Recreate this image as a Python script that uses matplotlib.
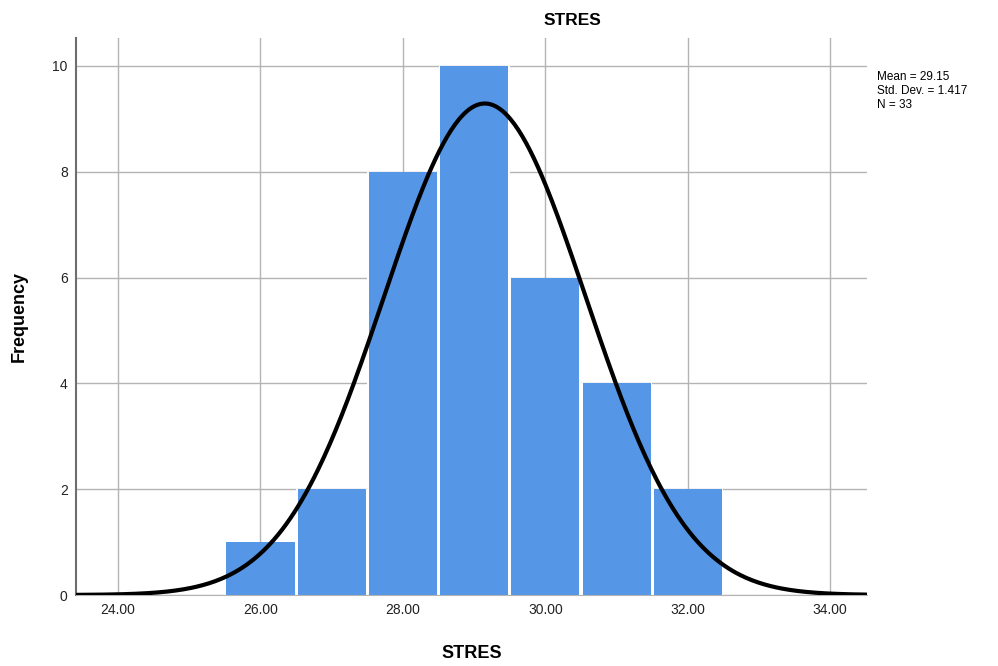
import numpy as np
import matplotlib
matplotlib.use("Agg")
import matplotlib.pyplot as plt

# histogram data (bin centres and counts)
bin_centers = [26, 27, 28, 29, 30, 31, 32]
counts = [1, 2, 8, 10, 6, 4, 2]
mean = 29.15
std = 1.417
n = 33
x_ticks = [24, 26, 28, 30, 32, 34]
y_ticks = [0, 2, 4, 6, 8, 10]

plt.rcParams['font.family'] = ['Liberation Sans', 'DejaVu Sans']

fig = plt.figure(figsize=(9.98, 6.66), dpi=100)
ax = fig.add_axes([0.0762, 0.1066, 0.7928, 0.8364])

# white backing so the gaps between bars stay clean, then the bars
ax.bar(bin_centers, counts, width=1.0, color='white', linewidth=0, zorder=2)
ax.bar(bin_centers, counts, width=0.955, color='#5596e6', linewidth=0, zorder=2)

# normal curve scaled to counts (bin width 1)
xs = np.linspace(23.41, 34.52, 400)
ys = n * 1.0 / (std * np.sqrt(2 * np.pi)) * np.exp(-0.5 * ((xs - mean) / std) ** 2)
ax.plot(xs, ys, color='black', linewidth=3, zorder=3)

ax.set_xlim(23.41, 34.52)
ax.set_ylim(0, 10.53)
ax.set_xticks(x_ticks)
ax.set_xticklabels(['%.2f' % v for v in x_ticks])
ax.set_yticks(y_ticks)
ax.grid(True, color='#b4b4b4', linewidth=1, zorder=0)
ax.set_axisbelow(True)

for s in ['top', 'right']:
    ax.spines[s].set_visible(False)
ax.spines['left'].set_color('#6e6e6e')
ax.spines['bottom'].set_color('#b4b4b4')
ax.spines['left'].set_linewidth(1.5)
ax.tick_params(length=0, labelsize=10, colors='#222222', pad=6)

fig.text(0.574, 0.969, 'STRES', fontsize=12.5, fontweight='bold',
         ha='center', va='center')
ax.set_xlabel('STRES', fontsize=13, fontweight='bold', labelpad=20)
ax.set_ylabel('Frequency', fontsize=13, fontweight='bold', labelpad=18)

fig.text(0.879, 0.894, 'Mean = %.2f\nStd. Dev. = %.3f\nN = %d' % (mean, std, n),
         fontsize=8.5, va='top', ha='left', linespacing=1.25)

fig.savefig('out.png', dpi=100)
